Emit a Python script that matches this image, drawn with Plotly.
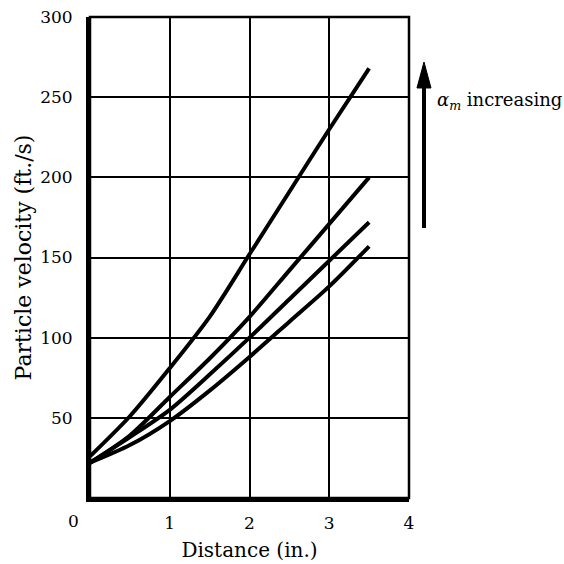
import plotly.graph_objects as go

distance = [0, 0.5, 1.0, 1.5, 2.0, 2.5, 3.0, 3.5]
vel_a = [26, 51, 81, 113, 152, 191, 230, 268]
vel_b = [22, 39, 63, 87, 113, 142, 171, 200]
vel_c = [22, 38, 55, 77, 100, 124, 148, 172]
vel_d = [22, 33, 48, 67, 88, 110, 132, 157]
x_ticks = [1, 2, 3, 4]
y_ticks = [50, 100, 150, 200, 250, 300]

FONT = "DejaVu Serif"
fig = go.Figure()
for v in [vel_a, vel_b, vel_c, vel_d]:
    fig.add_trace(go.Scatter(x=distance, y=v, mode="lines",
                             line=dict(color="black", width=4, shape="spline", smoothing=0.8),
                             showlegend=False, hoverinfo="skip"))

fig.update_layout(
    width=564, height=564,
    margin=dict(l=90, r=155, t=17, b=66),
    paper_bgcolor="white", plot_bgcolor="white",
    font=dict(family=FONT, color="black", size=17),
    xaxis=dict(range=[0, 4], tickvals=x_ticks, showgrid=True, gridcolor="black", gridwidth=2,
               showline=True, linecolor="black", linewidth=4, zeroline=False, ticks="",
               ticklabelstandoff=7, automargin=False,
               title=dict(text="Distance (in.)", font=dict(size=20), standoff=12)),
    yaxis=dict(range=[0, 300], tickvals=y_ticks, showgrid=True, gridcolor="black", gridwidth=2,
               showline=True, linecolor="black", linewidth=4, zeroline=False, ticks="",
               ticklabelstandoff=10, automargin=False,
               title=dict(text="Particle velocity (ft./s)", font=dict(size=22), standoff=3)),
    shapes=[
        dict(type="rect", xref="paper", yref="paper", x0=0, x1=1, y0=0, y1=1,
             line=dict(color="black", width=2.5)),
        dict(type="line", xref="paper", yref="paper", x0=1.047, x1=1.047, y0=0.5613, y1=0.86,
             line=dict(color="black", width=4)),
        dict(type="path", xref="paper", yref="paper",
             path="M 1.025 0.8524 L 1.047 0.9064 L 1.069 0.8524 Z",
             fillcolor="black", line=dict(color="black", width=1)),
    ],
    annotations=[
        dict(text="<i>α</i><sub><i>m</i></sub> increasing", xref="paper", yref="paper",
             x=1.082, y=0.825, xanchor="left", yanchor="middle", showarrow=False,
             font=dict(size=18)),
        dict(text="0", xref="paper", yref="paper", x=-0.053, y=-0.048,
             xanchor="center", yanchor="middle", showarrow=False, font=dict(size=17)),
    ],
)
fig.write_html("out.html", config={"displayModeBar": False},
               post_script="document.body.style.margin='0';document.body.style.overflow='hidden';")
